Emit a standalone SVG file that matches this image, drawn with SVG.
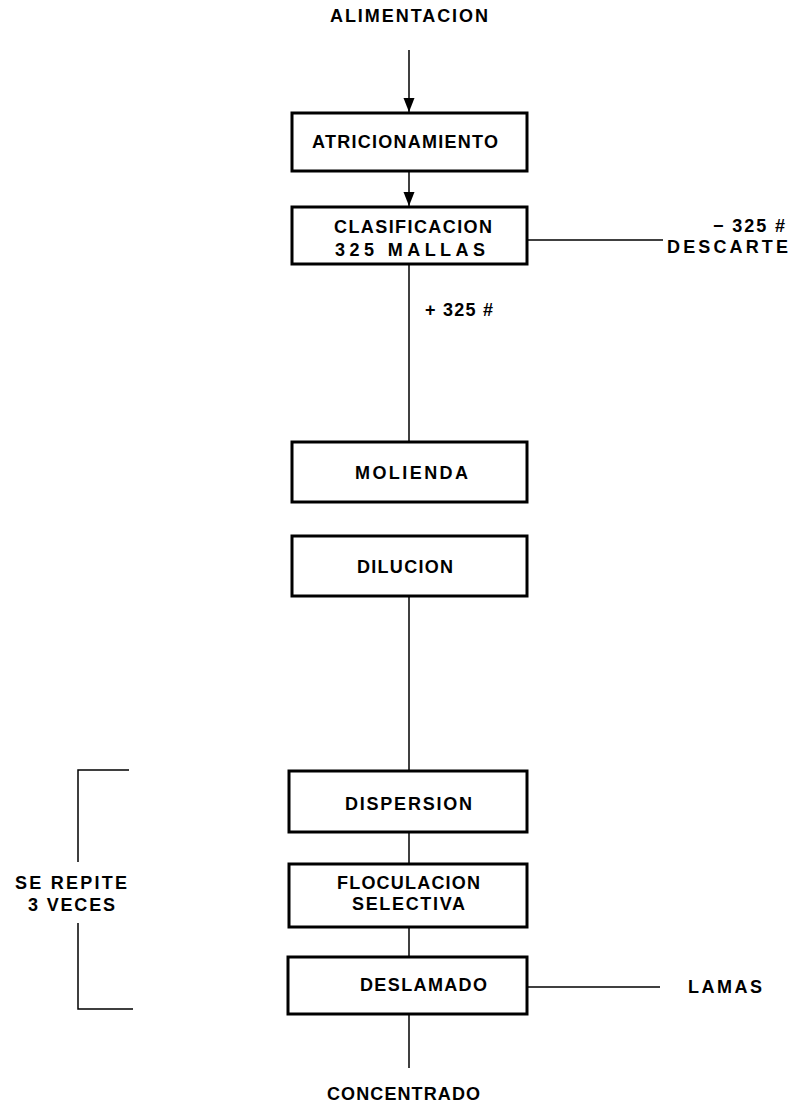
<svg xmlns="http://www.w3.org/2000/svg" width="799" height="1106" viewBox="0 0 799 1106">
<style>
text{font-family:"Liberation Sans",Arial,sans-serif;font-weight:bold;font-size:18px;fill:#000}
.box{fill:#fff;stroke:#000;stroke-width:3}
.ln{fill:none;stroke:#000;stroke-width:1.5}
</style>
<defs>
<marker id="ah" markerUnits="userSpaceOnUse" markerWidth="15" markerHeight="12" refX="14" refY="5.5" orient="auto">
<path d="M0,0 L14,5.5 L0,11 Z" fill="#000"/>
</marker>
</defs>
<rect width="799" height="1106" fill="#fff"/>
<g id="connectors">
<line class="ln" x1="409" y1="50" x2="409" y2="112" marker-end="url(#ah)"/>
<line class="ln" x1="409" y1="171" x2="409" y2="206" marker-end="url(#ah)"/>
<line class="ln" x1="527" y1="240" x2="663" y2="240"/>
<line class="ln" x1="409" y1="264" x2="409" y2="442"/>
<line class="ln" x1="409" y1="596" x2="409" y2="771"/>
<line class="ln" x1="409" y1="832" x2="409" y2="864"/>
<line class="ln" x1="409" y1="927" x2="409" y2="957"/>
<line class="ln" x1="527" y1="987" x2="660" y2="987"/>
<line class="ln" x1="409" y1="1014" x2="409" y2="1068"/>
<path class="ln" d="M129,770 H78 V862 M78,923 V1009 H133"/>
</g>
<g id="alimentacion"><text x="330" y="22" textLength="158" lengthAdjust="spacing">ALIMENTACION</text></g>
<g id="atricionamiento">
<rect class="box" x="292" y="113" width="235" height="58"/>
<text x="312" y="148" textLength="186" lengthAdjust="spacing">ATRICIONAMIENTO</text>
</g>
<g id="clasificacion">
<rect class="box" x="292" y="207" width="235" height="57"/>
<text x="334" y="233" textLength="158" lengthAdjust="spacing">CLASIFICACION</text>
<text x="335" y="256" textLength="150" lengthAdjust="spacing">325  MALLAS</text>
</g>
<g id="descarte">
<text x="713" y="232" textLength="72" lengthAdjust="spacing">− 325 #</text>
<text x="667" y="253" textLength="121" lengthAdjust="spacing">DESCARTE</text>
</g>
<g id="mas325"><text x="425" y="316" textLength="68" lengthAdjust="spacing">+ 325 #</text></g>
<g id="molienda">
<rect class="box" x="292" y="442" width="235" height="60"/>
<text x="355" y="479" textLength="113" lengthAdjust="spacing">MOLIENDA</text>
</g>
<g id="dilucion">
<rect class="box" x="292" y="536" width="235" height="60"/>
<text x="357" y="573" textLength="96" lengthAdjust="spacing">DILUCION</text>
</g>
<g id="dispersion">
<rect class="box" x="289" y="771" width="238" height="61"/>
<text x="345" y="810" textLength="127" lengthAdjust="spacing">DISPERSION</text>
</g>
<g id="floculacion">
<rect class="box" x="289" y="864" width="238" height="63"/>
<text x="337" y="889" textLength="143" lengthAdjust="spacing">FLOCULACION</text>
<text x="352" y="910" textLength="113" lengthAdjust="spacing">SELECTIVA</text>
</g>
<g id="deslamado">
<rect class="box" x="288" y="957" width="239" height="57"/>
<text x="360" y="991" textLength="127" lengthAdjust="spacing">DESLAMADO</text>
</g>
<g id="lamas"><text x="688" y="993" textLength="74" lengthAdjust="spacing">LAMAS</text></g>
<g id="concentrado"><text x="327" y="1100" textLength="153" lengthAdjust="spacing">CONCENTRADO</text></g>
<g id="se-repite">
<text x="15" y="889" textLength="112" lengthAdjust="spacing">SE  REPITE</text>
<text x="28" y="911" textLength="87" lengthAdjust="spacing">3  VECES</text>
</g>
</svg>
